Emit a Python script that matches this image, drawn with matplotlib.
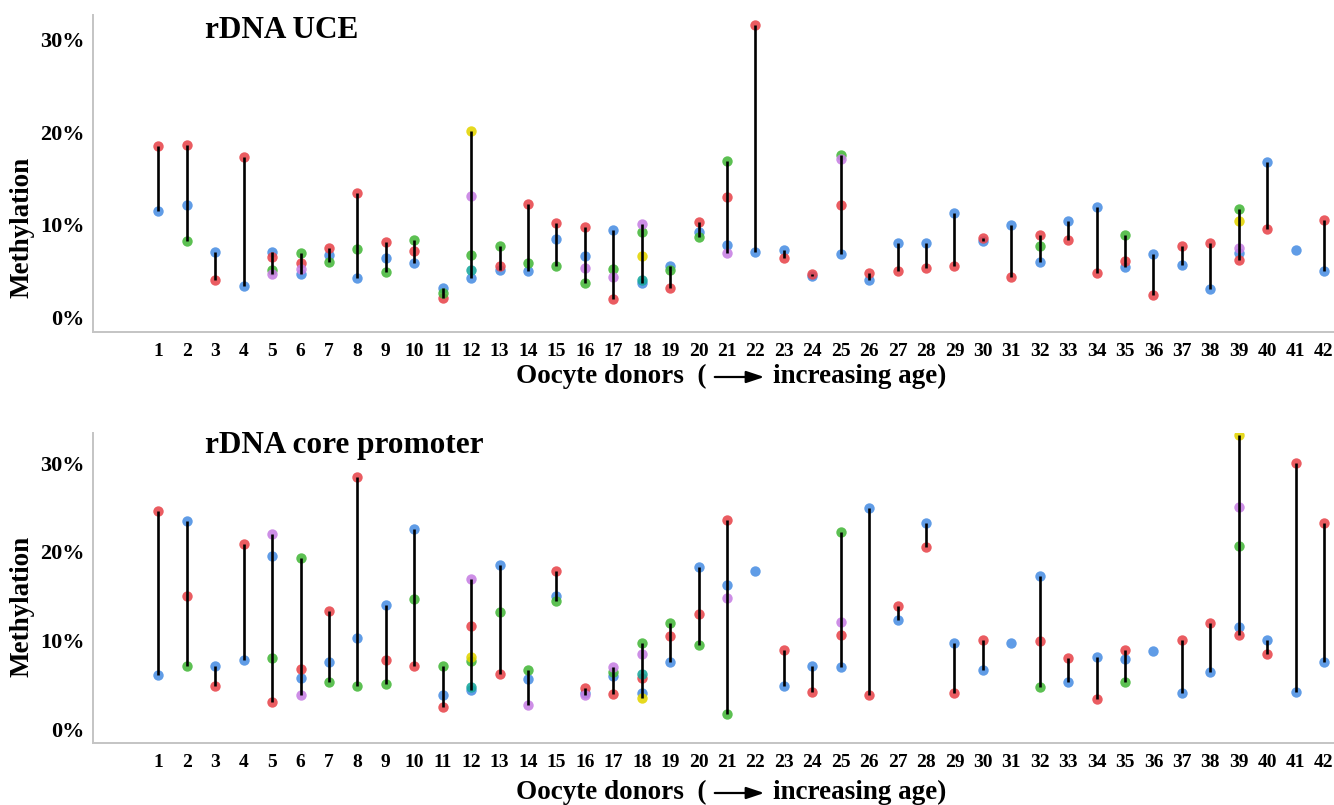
"""Methylation spread per oocyte donor: rDNA UCE and rDNA core promoter."""

import matplotlib

matplotlib.use("Agg")
import matplotlib.pyplot as plt
from matplotlib.patches import FancyArrowPatch
from matplotlib.ticker import FuncFormatter
import numpy as np

n = np.nan

plt.rcParams.update(
    {
        "font.family": ["Liberation Serif", "DejaVu Serif"],
        "font.weight": "bold",
        "figure.facecolor": "white",
    }
)

DONORS = list(range(1, 43))

# rDNA UCE, methylation (%) per donor, one list per colour
UCE_RED = [18.5, 18.7, 4.1, 17.3, 6.5, 5.9, 7.5, 13.5, 8.2, 7.2, 2.1, n, 5.6, 12.3,
           10.2, 9.8, 2.0, n, 3.2, 10.3, 13.0, 31.6, 6.4, 4.7, 12.2, 4.8, 5.0, 5.3,
           5.6, 8.6, 4.35, 8.9, 8.35, 4.8, 6.1, 2.4, 7.7, 8.0, 6.25, 9.6, n, 10.5]
UCE_BLUE = [11.5, 12.2, 7.1, 3.4, 7.05, 4.7, 6.8, 4.3, 6.4, 5.9, 3.2, 4.3, 5.1, 5.0,
            8.5, 6.6, 9.5, 3.7, 5.6, 9.2, 7.8, 7.1, 7.3, 4.5, 6.9, 4.1, 8.05, 8.05,
            11.3, 8.3, 10.0, 6.0, 10.4, 11.9, 5.5, 6.9, 5.7, 3.05, 7.0, 16.8, 7.3, 5.0]
UCE_GREEN = [n, 8.3, n, n, 5.1, 7.0, 6.0, 7.4, 4.9, 8.4, 2.7, 6.8, 7.7, 5.9,
             5.6, 3.7, 5.2, 9.2, 5.1, 8.7, 16.9, n, n, n, 17.6, n, n, n,
             n, n, n, 7.7, n, n, 8.9, n, n, n, 11.7, n, n, n]
UCE_PURPLE = [n, n, n, n, 4.7, 5.2, n, n, n, n, n, 13.1, n, n,
              n, 5.3, 4.4, 10.1, n, n, 7.0, n, n, n, 17.1, n, n, n,
              n, n, n, n, n, n, n, n, n, n, 7.5, n, n, n]
UCE_YELLOW = [n] * 11 + [20.2] + [n] * 5 + [6.6] + [n] * 20 + [10.4] + [n] * 3
UCE_TEAL = [n] * 11 + [5.1] + [n] * 5 + [4.1] + [n] * 24

# rDNA core promoter
CORE_RED = [24.6, 15.0, 4.9, 20.9, 3.1, 6.8, 13.4, 28.4, 7.8, 7.1, 2.5, 11.7, 6.2, n,
            17.8, 4.7, 4.0, 5.8, 10.5, 13.0, 23.6, n, 9.0, 4.2, 10.6, 3.9, 13.9, 20.6,
            4.15, 10.1, n, 10.0, 8.1, 3.4, 9.0, n, 10.05, 12.0, 10.65, 8.5, 30.0, 23.3]
CORE_BLUE = [6.1, 23.5, 7.1, 7.8, 19.6, 5.8, 7.6, 10.3, 14.0, 22.6, 3.9, 4.45, 18.5, 5.7,
             15.05, 4.1, 6.0, 4.1, 7.6, 18.35, 16.25, 17.9, 4.9, 7.1, 7.0, 25.0, 12.3, 23.25,
             9.75, 6.7, 9.7, 17.3, 5.3, 8.2, 7.95, 8.8, 4.1, 6.5, 11.55, 10.1, 4.2, 7.6]
CORE_GREEN = [n, 7.2, n, n, 8.1, 19.3, 5.4, 4.9, 5.1, 14.7, 7.2, 7.7, 13.2, 6.7,
              14.45, n, 6.5, 9.75, 12.0, 9.5, 1.8, n, n, n, 22.3, n, n, n,
              n, n, n, 4.75, n, n, 5.3, n, n, n, 20.7, n, n, n]
CORE_PURPLE = [n, n, n, n, 22.0, 3.9, n, n, n, n, n, 17.0, n, 2.8,
               n, 3.9, 7.0, 8.5, n, n, 14.8, n, n, n, 12.1, n, n, n,
               n, n, n, n, n, n, n, n, n, n, 25.05, n, n, n]
CORE_YELLOW = [n] * 11 + [8.2] + [n] * 5 + [3.5] + [n] * 20 + [33.2] + [n] * 3
CORE_TEAL = [n] * 11 + [4.8] + [n] * 5 + [6.3] + [n] * 24

COLORS = {
    "blue": "#4a8fe3",
    "red": "#e8454b",
    "green": "#45b83a",
    "purple": "#c77fe3",
    "yellow": "#e3d400",
    "teal": "#17a89c",
}

PANELS = [
    ("rDNA UCE", {"blue": UCE_BLUE, "red": UCE_RED, "green": UCE_GREEN,
                  "purple": UCE_PURPLE, "yellow": UCE_YELLOW, "teal": UCE_TEAL}),
    ("rDNA core promoter", {"blue": CORE_BLUE, "red": CORE_RED, "green": CORE_GREEN,
                            "purple": CORE_PURPLE, "yellow": CORE_YELLOW, "teal": CORE_TEAL}),
]

W, H = 1334, 805
fig = plt.figure(figsize=(W / 100, H / 100), dpi=100)

# axes boxes in pixels: left, top, right, bottom
BOXES = [(93, 15, 1334, 332), (93, 433, 1334, 743)]
YLIMS = [(-1.57, 32.7), (-1.52, 33.4)]
TITLE_BASE = [38, 453]
YLABEL_Y = [227, 606]
XLABEL_BASE = [383, 799]


def fx(px):
    return px / W


def fy(py):
    return 1 - py / H


for k, (title, series) in enumerate(PANELS):
    l, t, r, b = BOXES[k]
    ax = fig.add_axes([fx(l), fy(b), fx(r) - fx(l), fy(t) - fy(b)])
    x = np.array(DONORS, dtype=float)

    stack = np.array([series[c] for c in series], dtype=float)
    lo = np.nanmin(stack, axis=0)
    hi = np.nanmax(stack, axis=0)
    for name, vals in series.items():
        ax.scatter(x, vals, s=56, color=COLORS[name], alpha=0.88, linewidths=0, zorder=3)
    ax.vlines(x, lo, hi, color="black", lw=1.9, zorder=4)

    ax.set_xlim(-1.3, 42.35)
    ax.set_ylim(*YLIMS[k])
    ax.set_xticks(DONORS)
    ax.set_yticks([0, 10, 20, 30])
    ax.yaxis.set_major_formatter(FuncFormatter(lambda v, _: f"{v:.0f}%"))
    ax.tick_params(axis="x", length=0, labelsize=14, pad=8)
    ax.tick_params(axis="y", length=0, labelsize=16, pad=6)
    for lab in ax.get_xticklabels() + ax.get_yticklabels():
        lab.set_fontweight("bold")
    for side in ("top", "right"):
        ax.spines[side].set_visible(False)
    for side in ("left", "bottom"):
        ax.spines[side].set_color("#c4c4c4")
        ax.spines[side].set_linewidth(1.4)

    fig.text(fx(205), fy(TITLE_BASE[k]), title, fontsize=22.5, fontweight="bold",
             ha="left", va="baseline")
    fig.text(fx(22), fy(YLABEL_Y[k]), "Methylation", fontsize=19.5, fontweight="bold",
             rotation=90, ha="center", va="center")

    yb = fy(XLABEL_BASE[k])
    fig.text(fx(707), yb, "Oocyte donors  (", fontsize=19.5, fontweight="bold",
             ha="right", va="baseline")
    fig.text(fx(773), yb, "increasing age)", fontsize=19.5, fontweight="bold",
             ha="left", va="baseline")
    ya = fy(XLABEL_BASE[k] - 6)
    fig.patches.append(
        FancyArrowPatch(
            (fx(712), ya), (fx(767), ya), transform=fig.transFigure,
            arrowstyle="-|>,head_length=0.9,head_width=0.3", mutation_scale=12,
            lw=1.6, color="black",
        )
    )

fig.savefig("out.png", dpi=100)
